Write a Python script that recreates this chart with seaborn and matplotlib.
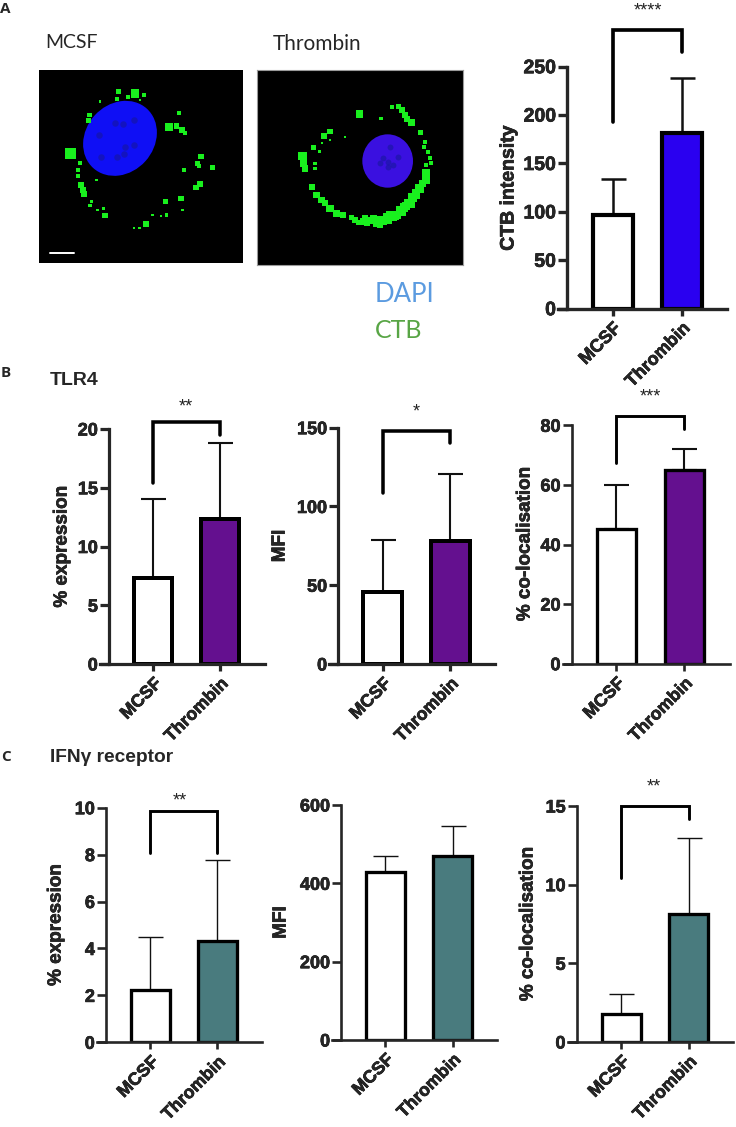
import matplotlib
matplotlib.use("Agg")
import matplotlib.pyplot as plt
from matplotlib.patches import Ellipse
from matplotlib.transforms import ScaledTranslation
import matplotlib.patheffects as pe
import pandas as pd
import seaborn as sns

sns.set_style("white")
plt.rcParams["font.family"] = ["Liberation Sans", "DejaVu Sans"]

W, H = 736, 1127
conditions = ["MCSF", "Thrombin"]

# bar means and upper error-bar ends
ctb_mean = [96.5, 181];        ctb_top = [134, 238]
tlr_exp_mean = [7.35, 12.3];   tlr_exp_top = [14, 18.8]
tlr_mfi_mean = [45.5, 77.8];   tlr_mfi_top = [78.5, 120.5]
tlr_col_mean = [45.2, 65.1];   tlr_col_top = [60, 72]
ifn_exp_mean = [2.25, 4.32];   ifn_exp_top = [4.5, 7.75]
ifn_mfi_mean = [428, 470];     ifn_mfi_top = [470, 546]
ifn_col_mean = [1.75, 8.11];   ifn_col_top = [3.05, 12.95]

# significance brackets: (top, left foot, right foot) in data units, label
ctb_sig = (288, 193, 265, "****")
tlr_exp_sig = (20.6, 15.43, 19.46, "**")
tlr_mfi_sig = (148.1, 108.6, 140.1, "*")
tlr_col_sig = (83.2, 67.3, 78.8, "***")
ifn_exp_sig = (9.86, 8.07, 8.07, "**")
ifn_col_sig = (15.0, 10.4, 14.2, "**")

# micrograph content (positions in image pixels at 3x)
mcsf_puncta_x = [355,405,385,432,350,420,300,268,266,537,507,530,545,555,212,240,233,233,603,593,597,637,552,289,600,588,243,248,252,496,543,275,270,310,293,315,548,458,500,483,438,418,402]
mcsf_puncta_y = [275,280,290,285,298,300,305,345,362,338,381,378,390,398,460,488,510,528,470,490,498,503,509,540,552,562,555,570,583,605,595,605,617,625,630,647,630,645,645,648,672,684,684]
mcsf_puncta_s = [14,40,8,6,8,3,5,12,14,8,28,14,18,8,70,8,8,8,14,12,12,14,8,5,20,16,18,20,20,16,14,6,6,5,4,16,4,5,6,4,26,4,4]
mcsf_spot_x = [370,402,296,375,402,350,372,302,345]
mcsf_spot_y = [372,360,405,440,435,472,462,472,370]
thr_puncta_x = [1078,1143,1175,1195,1205,1215,1222,1235,1262,1275,1272,1285,1290,1292,1278,1278,1278,1258,1248,1238,1225,1212,1200,1190,1178,1165,1150,1130,1120,1110,1095,1090,1075,1055,1030,1010,990,975,965,950,935,908,910,915,945,945,940,958,972,990,990,965,1035,1140,1160,1085,1268,1250,1232,1218,1205,1185,1170,1140,1100,1065]
thr_puncta_y = [342,355,320,320,330,345,358,368,398,425,440,455,475,490,495,520,540,565,578,592,610,622,632,645,652,660,664,668,655,662,655,668,668,652,645,640,625,610,600,585,560,468,490,505,490,505,442,455,408,395,420,430,412,658,650,660,550,585,612,618,635,650,645,675,670,660]
thr_puncta_s = [28,6,10,16,18,22,18,22,12,10,10,8,10,8,6,36,36,40,36,40,44,44,44,36,36,36,34,34,22,30,26,14,14,14,20,30,30,20,24,24,20,40,30,26,6,6,12,5,16,14,5,3,3,26,26,10,30,30,36,36,36,30,30,20,20,14]
thr_spot_x = [1165,1150,1180,1195,1140,1165,1170]
thr_spot_y = [485,475,495,470,490,500,440]

HEAVY = [pe.withStroke(linewidth=0.45, foreground="black")]


def frac_x(px):
    return px / W


def frac_y(py):
    return 1 - py / H


fig = plt.figure(figsize=(W / 100, H / 100), dpi=100)
fig.patch.set_facecolor("white")


def micrograph(x0, x1, y0, y1, nucleus, colour, px, py, ps, sx, sy, spot, edge):
    ax = fig.add_axes([frac_x(x0), frac_y(y1), (x1 - x0) / W, (y1 - y0) / H])
    ax.set_facecolor("black")
    ax.set_xlim(x0 * 3, x1 * 3)
    ax.set_ylim(y1 * 3, y0 * 3)
    ax.set_xticks([]); ax.set_yticks([])
    for s in ax.spines.values():
        s.set_visible(edge)
        s.set_color("#9a9a9a")
        s.set_linewidth(0.8)
    cx, cy, w, h, ang = nucleus
    ax.add_patch(Ellipse((cx, cy), w, h, angle=ang, color=colour, lw=0))
    sns.scatterplot(x=sx, y=sy, s=spot, color="#17179c", linewidth=0, alpha=0.6, ax=ax, legend=False)
    sns.scatterplot(x=px, y=py, size=ps, sizes=(min(ps) * 0.9, max(ps) * 0.95), color="#19f01e",
                    marker="s", linewidth=0, ax=ax, legend=False)
    ax.set_xlabel(""); ax.set_ylabel("")
    ax.set_xlim(x0 * 3, x1 * 3)
    ax.set_ylim(y1 * 3, y0 * 3)
    return ax


a1 = micrograph(39, 243.3, 70, 263, (360, 415, 240, 205, -48), "#0f0ff5",
                mcsf_puncta_x, mcsf_puncta_y, mcsf_puncta_s, mcsf_spot_x, mcsf_spot_y, 22, False)
a1.plot([150, 222], [758, 758], color="white", lw=1.4)
micrograph(256.7, 463.3, 70.3, 265.3, (1163, 483, 152, 160, 0), "#3a10e0",
           thr_puncta_x, thr_puncta_y, thr_puncta_s, thr_spot_x, thr_spot_y, 18, True)


def bar_panel(box, ticks_px, ymax, yticks, means, tops, colour, ylabel, label_xy, sig=None,
              lw=2.3, elw=1.5, fs=13, xfs=12.8, lfs=13.6):
    left, right, ytop, ybot = box
    ax = fig.add_axes([frac_x(left), frac_y(ybot), (right - left) / W, (ybot - ytop) / H])
    ax.patch.set_alpha(0)
    df = pd.DataFrame({"cond": conditions, "val": means})
    sns.barplot(data=df, x="cond", y="val", hue="cond", palette=["white", colour], width=0.575,
                saturation=1, edgecolor="black", linewidth=lw * 1.25, legend=False, ax=ax, zorder=3)
    lower = [0, 0]
    upper = [t - m for t, m in zip(tops, means)]
    ax.errorbar([0, 1], means, yerr=[lower, upper], fmt="none", ecolor="#111111", elinewidth=elw,
                capsize=9, capthick=elw, zorder=2)
    a, b = ticks_px
    unit = b - a
    ax.set_xlim((left - a) / unit, (right - a) / unit)
    ax.set_ylim(0, ymax)
    ax.set_yticks(yticks)
    ax.set_xticks([0, 1])
    ax.set_xticklabels(conditions, rotation=45, ha="right", rotation_mode="anchor",
                       fontsize=xfs, fontweight="bold")
    shift = ScaledTranslation(-6 / 100, 0, fig.dpi_scale_trans)
    for t in ax.get_xticklabels():
        t.set_transform(t.get_transform() + shift)
        t.set_path_effects(HEAVY)
    for t in ax.get_yticklabels():
        t.set_fontsize(fs); t.set_fontweight("bold")
        t.set_path_effects(HEAVY)
    ax.tick_params(axis="y", left=True, length=6.5, width=lw, pad=1.5)
    ax.tick_params(axis="x", bottom=True, length=5, width=lw, pad=3)
    sns.despine(ax=ax)
    for s in ("left", "bottom"):
        ax.spines[s].set_linewidth(lw)
        ax.spines[s].set_zorder(4)
    ax.spines["bottom"].set_bounds(ax.get_xlim()[0] - 6.5 * 1.39 / unit, ax.get_xlim()[1])
    ax.set_ylabel(ylabel, fontsize=lfs, fontweight="bold", va="center", ha="center",
                  path_effects=HEAVY)
    ax.yaxis.set_label_coords(frac_x(label_xy[0] + 2), frac_y(label_xy[1]), transform=fig.transFigure)
    ax.set_xlabel("")
    if sig:
        top, lf, rf, txt = sig
        ax.plot([0, 0, 1, 1], [lf, top, top, rf], color="black", lw=lw * 1.1, clip_on=False,
                solid_joinstyle="miter", solid_capstyle="round", zorder=5)
        star_px = sig_star[txt, ylabel, ymax]
        fig.text(frac_x(star_px[0]), frac_y(star_px[1]), txt, ha="center", va="center",
                 fontsize=13, color="#222222")
    return ax


sig_star = {
    ("****", "CTB intensity", 250): (647.7, 11),
    ("**", "% expression", 20): (185.7, 407),
    ("*", "MFI", 150): (416, 412),
    ("***", "% co-localisation", 80): (650.7, 397),
    ("**", "% expression", 10): (180, 801),
    ("**", "% co-localisation", 15): (654, 787),
}

PURPLE = "#64108f"
TEAL = "#497b7e"

bar_panel((567, 727, 66.7, 308.7), (612.7, 681.7), 250, [0, 50, 100, 150, 200, 250],
          ctb_mean, ctb_top, "#2a00f0", "CTB intensity", (507, 188), ctb_sig,
          lw=2.4, elw=1.8, fs=14, xfs=13, lfs=14)
bar_panel((109, 265, 429, 664), (153.3, 220), 20, [0, 5, 10, 15, 20],
          tlr_exp_mean, tlr_exp_top, PURPLE, "% expression", (60, 546.7), tlr_exp_sig,
          elw=1.5)
bar_panel((338.3, 495, 427.7, 664), (382.7, 450.3), 150, [0, 50, 100, 150],
          tlr_mfi_mean, tlr_mfi_top, PURPLE, "MFI", (278, 546), tlr_mfi_sig, elw=1.5)
bar_panel((571.7, 730, 425.3, 663.7), (616.3, 684.3), 80, [0, 20, 40, 60, 80],
          tlr_col_mean, tlr_col_top, PURPLE, "% co-localisation", (523, 543.7), tlr_col_sig,
          lw=1.9, elw=1.5)
bar_panel((106, 262, 807.7, 1042.3), (150.3, 217.3), 10, [0, 2, 4, 6, 8, 10],
          ifn_exp_mean, ifn_exp_top, TEAL, "% expression", (54, 925), ifn_exp_sig,
          lw=1.9, elw=1.0)
bar_panel((341.3, 497.3, 805, 1040), (385.3, 452.7), 600, [0, 200, 400, 600],
          ifn_mfi_mean, ifn_mfi_top, TEAL, "MFI", (279, 922.5), None, lw=1.9, elw=1.0)
bar_panel((576.7, 733, 806, 1042), (621.3, 688.7), 15, [0, 5, 10, 15],
          ifn_col_mean, ifn_col_top, TEAL, "% co-localisation", (526, 923.7), ifn_col_sig,
          lw=1.9, elw=1.0)


# panel letters, headings and image captions
def caption(px, py, s, **kw):
    fig.text(frac_x(px), frac_y(py), s, ha="left", va="center", **kw)


caption(0, 9, "A", fontsize=11, fontweight="bold", family="Open Sans")
caption(1, 373, "B", fontsize=11, fontweight="bold", family="Open Sans")
caption(1, 757, "C", fontsize=11, fontweight="bold", family="Open Sans")
caption(50, 380, "TLR4", fontsize=14, fontweight="bold")
caption(50, 757, "IFNγ receptor", fontsize=13.8, fontweight="bold")
caption(45, 42, "MCSF", fontsize=14, family="Lato")
caption(273, 44, "Thrombin", fontsize=15, family="Lato")
caption(375, 295, "DAPI", fontsize=18.5, family="Lato", color="#5b9be0")
caption(375, 330, "CTB", fontsize=18, family="Lato", color="#58a545")

fig.savefig("out.png", dpi=100)
